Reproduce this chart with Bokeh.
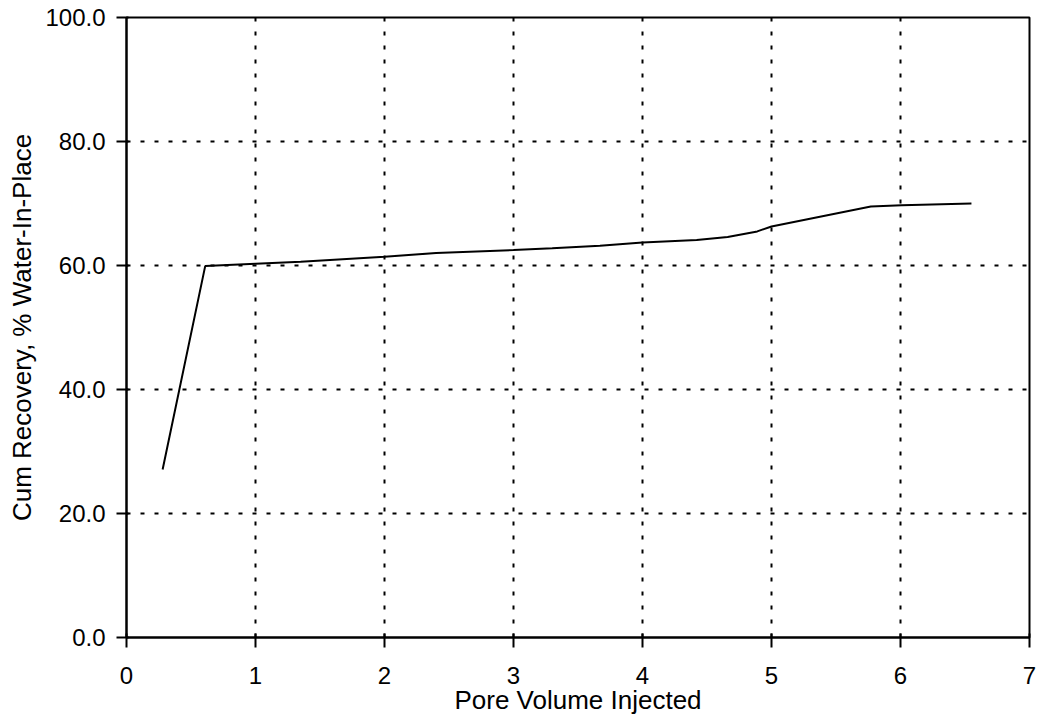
from bokeh.plotting import figure
from bokeh.models import Range1d, FixedTicker, PrintfTickFormatter
from bokeh.embed import file_html
from bokeh.resources import INLINE

# Cumulative recovery vs. pore volume injected
pore_volume = [0.28, 0.61, 1.0, 1.35, 2.0, 2.4, 3.0, 3.3, 3.67, 4.0, 4.42, 4.66, 4.89, 5.0, 5.77, 6.01, 6.55]
cum_recovery = [27.1, 59.9, 60.3, 60.6, 61.4, 62.0, 62.5, 62.8, 63.2, 63.7, 64.1, 64.6, 65.5, 66.3, 69.5, 69.7, 70.0]

x_ticks = [0, 1, 2, 3, 4, 5, 6, 7]
y_ticks = [0, 20, 40, 60, 80, 100]

FONT = "Liberation Sans"

p = figure(width=1039, height=728, output_backend="svg", toolbar_location=None,
           x_range=Range1d(0, 7), y_range=Range1d(0, 100))
p.min_border_left = 126
p.min_border_right = 10
p.min_border_top = 17
p.min_border_bottom = 91
p.background_fill_color = "white"
p.border_fill_color = "white"
p.outline_line_color = "black"
p.outline_line_width = 2

# grid: dotted black lines at each major tick
for g in (p.xgrid, p.ygrid):
    g.grid_line_color = "black"
    g.grid_line_width = 2
    g.grid_line_dash = "4 10"
p.xgrid.ticker = FixedTicker(ticks=x_ticks[1:-1])
p.ygrid.ticker = FixedTicker(ticks=y_ticks[1:-1])

p.xaxis.ticker = FixedTicker(ticks=x_ticks)
p.yaxis.ticker = FixedTicker(ticks=y_ticks)
p.yaxis.formatter = PrintfTickFormatter(format="%.1f")

for ax in (p.xaxis, p.yaxis):
    ax.axis_line_color = "black"
    ax.axis_line_width = 2
    ax.major_tick_line_color = "black"
    ax.major_tick_line_width = 2
    ax.minor_tick_line_color = None
    ax.major_label_text_font = FONT
    ax.major_label_text_font_size = "24px"
    ax.major_label_text_color = "black"
    ax.axis_label_text_font = FONT
    ax.axis_label_text_font_size = "26px"
    ax.axis_label_text_font_style = "normal"
    ax.axis_label_text_color = "black"

p.xaxis.major_tick_out = 10
p.xaxis.major_tick_in = 4
p.yaxis.major_tick_out = 10
p.yaxis.major_tick_in = 2
p.xaxis.major_label_standoff = 19
p.yaxis.major_label_standoff = 11
p.xaxis.axis_label = "Pore Volume Injected"
p.yaxis.axis_label = "Cum Recovery, % Water-In-Place"
p.xaxis.axis_label_standoff = -2
p.yaxis.axis_label_standoff = 5

p.line(pore_volume, cum_recovery, line_color="black", line_width=2)

open("out.html", "w").write(file_html(p, INLINE))
